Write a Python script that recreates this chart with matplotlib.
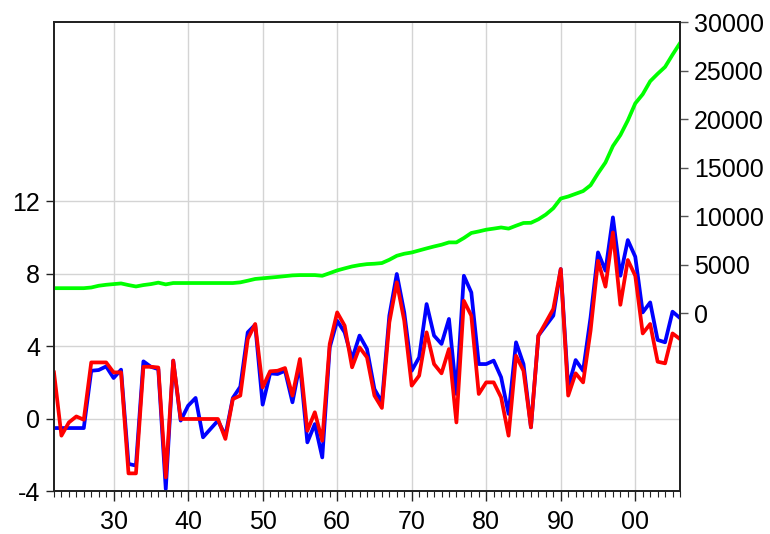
import matplotlib
matplotlib.use("Agg")
import matplotlib.pyplot as plt
from matplotlib.ticker import FixedLocator, MultipleLocator

plt.rcParams['font.family'] = ['Liberation Sans', 'DejaVu Sans']
plt.rcParams['axes.unicode_minus'] = False

years = list(range(1922, 2007))

blue = [-0.5, -0.5, -0.5, -0.5, -0.5, 2.66, 2.70, 2.90, 2.26, 2.72,
        -2.48, -2.57, 3.18, 2.88, 2.75, -3.86, 3.22, -0.09, 0.73, 1.16,
        -1.01, -0.55, -0.09, -0.92, 1.16, 1.78, 4.78, 5.20, 0.79, 2.52,
        2.48, 2.66, 0.92, 3.03, -1.29, -0.28, -2.12, 3.95, 5.42, 4.78,
        3.31, 4.60, 3.86, 1.65, 0.92, 5.70, 8.00, 5.88, 2.66, 3.40,
        6.34, 4.60, 4.14, 5.52, 1.38, 7.90, 6.98, 3.03, 3.03, 3.22,
        2.30, 0.28, 4.23, 3.03, -0.46, 4.60, 5.15, 5.70, 8.27, 1.74,
        3.25, 2.66, 5.60, 9.19, 8.18, 11.12, 7.90, 9.87, 8.95, 5.88,
        6.43, 4.36, 4.23, 5.92, 5.57]

red = [2.57, -0.92, -0.19, 0.14, -0.04, 3.12, 3.12, 3.12, 2.57, 2.57,
       -3.00, -3.00, 2.88, 2.88, 2.84, -3.22, 3.22, 0.0, 0.0, 0.0,
       0.0, 0.0, 0.0, -1.10, 1.10, 1.29, 4.41, 5.24, 1.74, 2.63,
       2.66, 2.81, 1.29, 3.31, -0.65, 0.37, -1.20, 4.14, 5.88, 5.15,
       2.85, 3.95, 3.40, 1.29, 0.61, 5.33, 7.54, 5.42, 1.84, 2.39,
       4.78, 3.03, 2.52, 3.86, -0.19, 6.52, 5.70, 1.38, 2.02, 2.02,
       1.19, -0.92, 3.49, 2.66, -0.46, 4.60, 5.33, 6.07, 8.27, 1.29,
       2.52, 2.02, 4.87, 8.73, 7.30, 10.29, 6.30, 8.77, 7.90, 4.72,
       5.24, 3.16, 3.07, 4.72, 4.41]

green = [2560, 2560, 2560, 2560, 2560, 2630, 2810, 2910, 2980, 3050,
         2880, 2735, 2880, 2980, 3130, 2950, 3090, 3090, 3090, 3090,
         3090, 3090, 3090, 3090, 3090, 3160, 3330, 3510, 3580, 3650,
         3720, 3800, 3880, 3910, 3910, 3910, 3840, 4110, 4390, 4600,
         4800, 4940, 5040, 5080, 5150, 5490, 5900, 6110, 6240, 6450,
         6660, 6860, 7040, 7280, 7280, 7730, 8250, 8410, 8590, 8700,
         8820, 8700, 9000, 9280, 9300, 9660, 10150, 10800, 11800, 12010,
         12290, 12570, 13170, 14400, 15520, 17210, 18340, 19850, 21610, 22550,
         23890, 24660, 25370, 26630, 27820]

xticks = [1930, 1940, 1950, 1960, 1970, 1980, 1990, 2000]
xlabels = ["30", "40", "50", "60", "70", "80", "90", "00"]
left_ticks = [-4, 0, 4, 8, 12]
right_ticks = [0, 5000, 10000, 15000, 20000, 25000, 30000]

fig = plt.figure(figsize=(7.7, 5.34), dpi=100)
ax = fig.add_axes([0.0701, 0.0796, 0.8130, 0.8792])
ax2 = ax.twinx()

ax.plot(years, blue, color='#0000ff', lw=2.7, zorder=3)
ax.plot(years, red, color='#ff0000', lw=2.7, zorder=4)
ax2.plot(years, green, color='#00ff00', lw=2.7)

ax.set_xlim(1922, 2006)
ax.set_ylim(-4, 21.9)
ax2.set_ylim(-18400, 30000)

ax.xaxis.set_major_locator(FixedLocator(xticks))
ax.set_xticklabels(xlabels)
ax.xaxis.set_minor_locator(MultipleLocator(1))
ax.yaxis.set_major_locator(FixedLocator(left_ticks))
ax.set_yticklabels([str(v) for v in left_ticks])
ax2.yaxis.set_major_locator(FixedLocator(right_ticks))
ax2.set_yticklabels([str(v) for v in right_ticks])

ax.grid(True, which='major', color='#d4d4d4', lw=1.0)
ax.set_axisbelow(True)

fs = 18
ax.tick_params(axis='x', which='major', direction='out', length=7, width=1.0,
               labelsize=fs, pad=6, color='#222222')
ax.tick_params(axis='x', which='minor', direction='out', length=4, width=0.8,
               color='#222222')
ax.tick_params(axis='y', direction='out', length=6, width=1.0, labelsize=fs,
               color='#222222', pad=4)
ax2.tick_params(axis='y', direction='out', length=6, width=1.0, labelsize=fs,
                color='#555555', pad=4)

for a in (ax, ax2):
    for s in a.spines.values():
        s.set_color('#222222')
        s.set_linewidth(1.3)

fig.savefig('out.png', dpi=100)
